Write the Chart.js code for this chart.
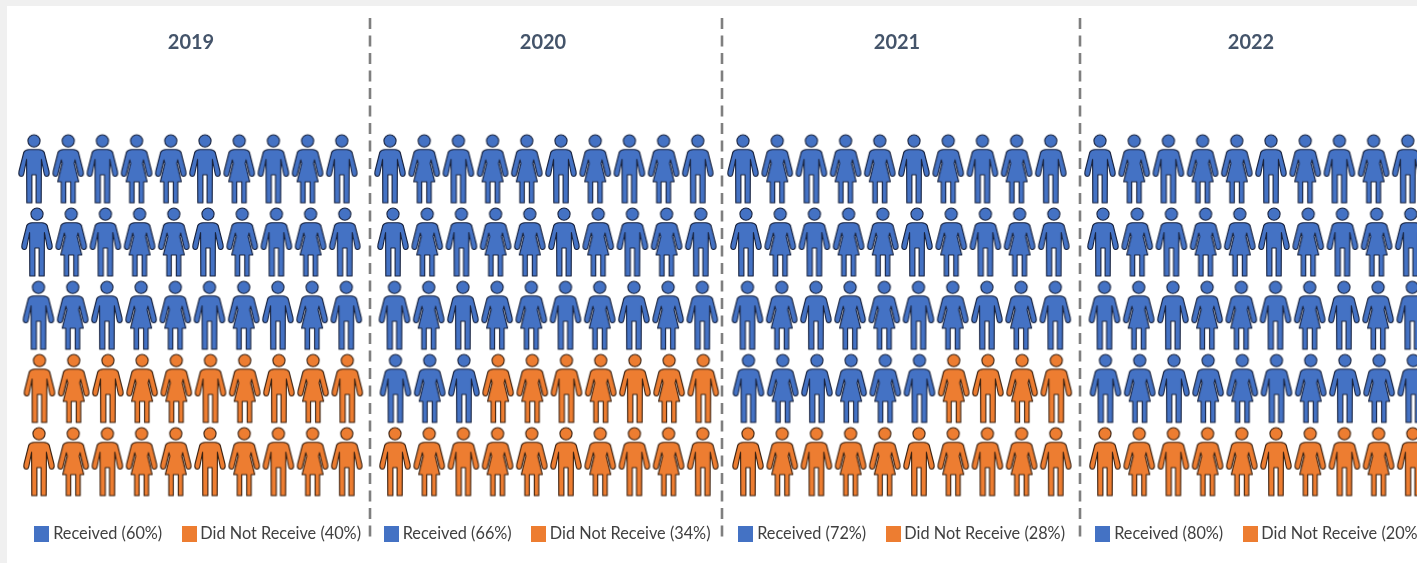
<!DOCTYPE html>
<html>
<head>
<meta charset="utf-8">
<title>Received vs Did Not Receive</title>
<script src="https://cdn.jsdelivr.net/npm/chart.js@4"></script>
<style>
    html, body { margin: 0; height: 100%; background: #f0f0f0; overflow: hidden; }
    #sheet { position: absolute; left: 7px; top: 6px; right: 0; bottom: 0; background: #fff; }
    canvas { position: absolute; top: 0; }
</style>
</head>
<body>
<div id="sheet"></div>
<canvas id="panel0" style="left:1px" width="380" height="563"></canvas>
<canvas id="panel1" style="left:353px" width="380" height="563"></canvas>
<canvas id="panel2" style="left:707px" width="380" height="563"></canvas>
<canvas id="panel3" style="left:1061px" width="380" height="563"></canvas>
<script>
// Data
const years = ['2019', '2020', '2021', '2022'];
const receivedPct = [60, 66, 72, 80];
const notReceivedPct = [40, 34, 28, 20];
// People in blue per row (10 people per row, 5 rows)
const receivedByRow = [
    [10, 10, 10, 0, 0],
    [10, 10, 10, 3, 0],
    [10, 10, 10, 6, 0],
    [10, 10, 10, 10, 0]
];
const columns = [1, 2, 3, 4, 5, 6, 7, 8, 9, 10];
const rows = [1, 2, 3, 4, 5];
const figures = ['man', 'woman', 'man', 'woman', 'woman', 'man', 'woman', 'man', 'woman', 'man'];

// Layout, in pixels
const panelWidth = 380;
const colPitch = 34.2;
const rowDrift = [0, 3, 4.5, 5.5, 5];
const firstColPx = [33, 37, 36, 39];
const legendShift = [9, 6.5, 7, 10];
const dividerPx = [null, 17, 15, 19];

// Colours
const blue = '#4472c4';
const orange = '#ed7d31';

function manPath() {
    const p = new Path2D();
    p.arc(0, 6.6, 6.1, 0, Math.PI * 2);
    p.moveTo(-5, 15.2);
    p.lineTo(5, 15.2);
    p.quadraticCurveTo(9, 15.4, 10.2, 18);
    p.lineTo(15, 37);
    p.quadraticCurveTo(15.8, 41.5, 13, 42);
    p.quadraticCurveTo(10.8, 42.4, 10.2, 39.5);
    p.lineTo(7.4, 25);
    p.lineTo(7.2, 68.5);
    p.lineTo(2.1, 68.5);
    p.lineTo(2.1, 40.5);
    p.lineTo(-2.1, 40.5);
    p.lineTo(-2.1, 68.5);
    p.lineTo(-7.2, 68.5);
    p.lineTo(-7.4, 25);
    p.lineTo(-10.2, 39.5);
    p.quadraticCurveTo(-10.8, 42.4, -13, 42);
    p.quadraticCurveTo(-15.8, 41.5, -15, 37);
    p.lineTo(-10.2, 18);
    p.quadraticCurveTo(-9, 15.4, -5, 15.2);
    p.closePath();
    return p;
}

function womanPath() {
    const p = new Path2D();
    p.arc(0, 6.6, 6.1, 0, Math.PI * 2);
    p.moveTo(-5, 15.2);
    p.lineTo(5, 15.2);
    p.quadraticCurveTo(9, 15.4, 10.2, 18);
    p.lineTo(15, 37);
    p.quadraticCurveTo(15.8, 41.5, 13, 42);
    p.quadraticCurveTo(10.8, 42.4, 10.2, 39.5);
    p.lineTo(6.8, 25.5);
    p.lineTo(6, 29);
    p.lineTo(10.5, 47.5);
    p.lineTo(7, 47.5);
    p.lineTo(7, 68.5);
    p.lineTo(2.5, 68.5);
    p.lineTo(2.5, 47.5);
    p.lineTo(-2.5, 47.5);
    p.lineTo(-2.5, 68.5);
    p.lineTo(-7, 68.5);
    p.lineTo(-7, 47.5);
    p.lineTo(-10.5, 47.5);
    p.lineTo(-6, 29);
    p.lineTo(-6.8, 25.5);
    p.lineTo(-10.2, 39.5);
    p.quadraticCurveTo(-10.8, 42.4, -13, 42);
    p.quadraticCurveTo(-15.8, 41.5, -15, 37);
    p.lineTo(-10.2, 18);
    p.quadraticCurveTo(-9, 15.4, -5, 15.2);
    p.closePath();
    return p;
}

// Icon sprites for pointStyle
function makeIcon(path, fill, edge) {
    const c = document.createElement('canvas');
    c.width = 38;
    c.height = 76;
    const ctx = c.getContext('2d');
    ctx.filter = 'blur(0.3px)';
    ctx.translate(19, 38 - 34.5);
    ctx.fillStyle = fill;
    ctx.strokeStyle = edge;
    ctx.lineWidth = 1.1;
    ctx.lineJoin = 'round';
    ctx.fill(path);
    ctx.stroke(path);
    return c;
}

function makeSwatch(fill) {
    const c = document.createElement('canvas');
    c.width = 15;
    c.height = 16;
    const ctx = c.getContext('2d');
    ctx.fillStyle = fill;
    ctx.fillRect(0, 0, 15, 16);
    return c;
}

const icons = {
    received: { man: makeIcon(manPath(), blue, '#18233f'), woman: makeIcon(womanPath(), blue, '#18233f') },
    other: { man: makeIcon(manPath(), orange, '#3b2110'), woman: makeIcon(womanPath(), orange, '#3b2110') }
};

// Shift the legend sideways, the reference legends sit off the panel centre
const legendNudge = {
    id: 'legendNudge',
    afterLayout(chart, args, opts) {
        chart.legend.left += opts.shift;
        chart.legend.right += opts.shift;
    }
};

function buildPoints(counts, wantReceived) {
    const points = [];
    rows.forEach((row, r) => {
        columns.forEach((col, c) => {
            if ((c < counts[r]) === wantReceived) {
                points.push({ x: col + rowDrift[r] / colPitch, y: row, figure: figures[c] });
            }
        });
    });
    return points;
}

function drawPanel(i) {
    const xMin = 1 - firstColPx[i] / colPitch;
    const datasets = [
        {
            label: `Received (${receivedPct[i]}%)`,
            data: buildPoints(receivedByRow[i], true),
            pointStyle: c => c.raw ? icons.received[c.raw.figure] : 'circle',
            pointRadius: 10,
            clip: false
        },
        {
            label: `Did Not Receive (${notReceivedPct[i]}%)`,
            data: buildPoints(receivedByRow[i], false),
            pointStyle: c => c.raw ? icons.other[c.raw.figure] : 'circle',
            pointRadius: 10,
            clip: false
        }
    ];
    if (dividerPx[i] !== null) {
        const dx = xMin + dividerPx[i] / colPitch;
        datasets.push({
            label: 'divider',
            data: [{ x: dx, y: -1.06 }, { x: dx, y: 6.03 }],
            showLine: true,
            pointRadius: 0,
            borderColor: '#7f7f7f',
            borderWidth: 2.6,
            borderDash: [11, 6.5],
            clip: false
        });
    }

    new Chart(document.getElementById('panel' + i), {
        type: 'scatter',
        data: { datasets: datasets },
        plugins: [legendNudge],
        options: {
            responsive: false,
            animation: false,
            events: [],
            layout: { autoPadding: false, padding: { bottom: 11 } },
            scales: {
                x: { type: 'linear', display: false, min: xMin, max: xMin + panelWidth / colPitch },
                y: { type: 'linear', display: false, reverse: true, min: -0.5615, max: 5.548 }
            },
            plugins: {
                tooltip: { enabled: false },
                title: {
                    display: true,
                    text: years[i],
                    color: '#44546a',
                    font: { family: 'Lato', size: 20, weight: 'bold' },
                    padding: { top: 30.5, bottom: 0 }
                },
                legend: {
                    position: 'bottom',
                    labels: {
                        usePointStyle: true,
                        boxWidth: 6,
                        boxHeight: 16,
                        padding: 24,
                        color: '#404040',
                        font: { family: 'Lato', size: 16.3 },
                        generateLabels: () => [
                            { text: datasets[0].label, pointStyle: makeSwatch(blue), fontColor: '#404040', lineWidth: 0 },
                            { text: datasets[1].label, pointStyle: makeSwatch(orange), fontColor: '#404040', lineWidth: 0 }
                        ]
                    }
                },
                legendNudge: { shift: legendShift[i] }
            }
        }
    });
}

years.forEach((year, i) => drawPanel(i));
</script>
</body>
</html>
